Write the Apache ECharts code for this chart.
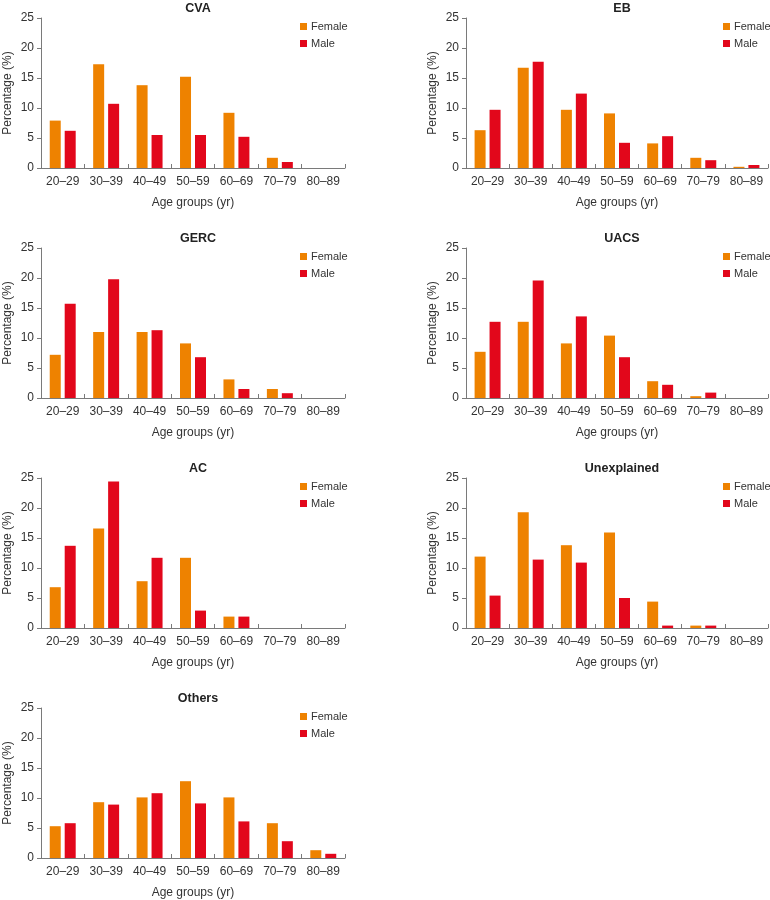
<!DOCTYPE html>
<html>
<head>
<meta charset="utf-8">
<script src="https://cdn.jsdelivr.net/npm/echarts@6/dist/echarts.min.js"></script>
<style>html,body{margin:0;padding:0;background:#fff;}#c{width:770px;height:900px;}</style>
</head>
<body>
<div id="c"></div>
<script>
const categories = ['20–29','30–39','40–49','50–59','60–69','70–79','80–89'];
const yTicks = [0,5,10,15,20,25];
const panelTitles = ['CVA','EB','GERC','UACS','AC','Unexplained','Others'];

const cvaFemale = [7.9,17.3,13.8,15.2,9.2,1.7,0];
const cvaMale   = [6.2,10.7,5.5,5.5,5.2,1.0,0];
const ebFemale  = [6.3,16.7,9.7,9.1,4.1,1.7,0.2];
const ebMale    = [9.7,17.7,12.4,4.2,5.3,1.3,0.5];
const gercFemale= [7.2,11.0,11.0,9.1,3.1,1.5,0];
const gercMale  = [15.7,19.8,11.3,6.8,1.5,0.8,0];
const uacsFemale= [7.7,12.7,9.1,10.4,2.8,0.3,0];
const uacsMale  = [12.7,19.6,13.6,6.8,2.2,0.9,0];
const acFemale  = [6.8,16.6,7.8,11.7,1.9,0,0];
const acMale    = [13.7,24.4,11.7,2.9,1.9,0,0];
const unexFemale= [11.9,19.3,13.8,15.9,4.4,0.4,0];
const unexMale  = [5.4,11.4,10.9,5.0,0.4,0.4,0];
const othFemale = [5.3,9.3,10.1,12.8,10.1,5.8,1.3];
const othMale   = [5.8,8.9,10.8,9.1,6.1,2.8,0.7];

const femaleSets = [cvaFemale,ebFemale,gercFemale,uacsFemale,acFemale,unexFemale,othFemale];
const maleSets   = [cvaMale,ebMale,gercMale,uacsMale,acMale,unexMale,othMale];

const FEMALE = '#EE8200';
const MALE = '#E2071B';
const FONT = 'Liberation Sans, Arial, sans-serif';
const TXT = '#333';
const AX = '#7a7a7a';

const grids=[], xAxes=[], yAxes=[], series=[], titles=[], legends=[];
for (let i=0;i<7;i++){
  const col = i%2, row = Math.floor(i/2);
  const left = col===0 ? 41 : 466;
  const width = col===0 ? 304 : 302;
  const top = 18 + row*230;
  const height = 150;
  grids.push({left:left, top:top, width:width, height:height});
  xAxes.push({
    type:'category', gridIndex:i, data:categories, boundaryGap:true,
    axisLine:{show:true, lineStyle:{color:AX, width:1}},
    axisTick:{show:true, inside:true, length:4, lineStyle:{color:AX}},
    axisLabel:{color:TXT, fontSize:12, fontFamily:FONT, margin:8, interval:0},
    name:'Age groups (yr)', nameLocation:'middle', nameGap:29,
    nameTextStyle:{color:TXT, fontSize:12, fontFamily:FONT}
  });
  yAxes.push({
    type:'value', gridIndex:i, min:yTicks[0], max:yTicks[yTicks.length-1], interval:yTicks[1]-yTicks[0],
    axisLine:{show:true, lineStyle:{color:AX, width:1}},
    axisTick:{show:true, inside:false, length:4, lineStyle:{color:AX}},
    axisLabel:{color:TXT, fontSize:12, fontFamily:FONT, margin:7},
    splitLine:{show:false},
    name:'Percentage (%)', nameLocation:'middle', nameGap:27, nameRotate:90,
    nameTextStyle:{color:TXT, fontSize:12, fontFamily:FONT}
  });
  titles.push({
    text:panelTitles[i], left:left+width/2, top:top-21, textAlign:'center',
    textStyle:{fontSize:12.5, fontWeight:'bold', color:'#222', fontFamily:FONT}
  });
  legends.push({
    data:['Female','Male'], orient:'vertical', left:left+width-50, top:top-2,
    itemWidth:7, itemHeight:7, itemGap:6, icon:'rect', selectedMode:false,
    textStyle:{color:TXT, fontSize:11, fontFamily:FONT, padding:[0,0,0,-1]}
  });
  series.push({
    name:'Female', type:'bar', xAxisIndex:i, yAxisIndex:i, data:femaleSets[i],
    barWidth:11, barGap:'36%', itemStyle:{color:FEMALE}, silent:true
  });
  series.push({
    name:'Male', type:'bar', xAxisIndex:i, yAxisIndex:i, data:maleSets[i],
    barWidth:11, barGap:'36%', itemStyle:{color:MALE}, silent:true
  });
}

const chart = echarts.init(document.getElementById('c'), null, {renderer:'canvas'});
chart.setOption({
  animation:false,
  backgroundColor:'#fff',
  title:titles, legend:legends, grid:grids, xAxis:xAxes, yAxis:yAxes, series:series
});
</script>
</body>
</html>
